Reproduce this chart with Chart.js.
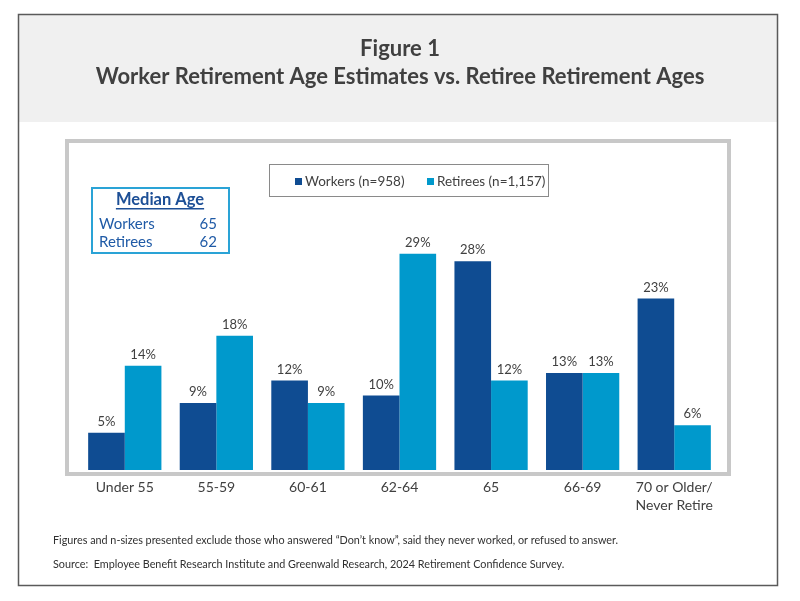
<!DOCTYPE html>
<html><head><meta charset="utf-8">
<script src="https://cdn.jsdelivr.net/npm/chart.js@4/dist/chart.umd.min.js"></script>
<style>html,body{margin:0;padding:0;background:#fff}#wrap{width:800px;height:601px;position:relative}</style>
</head><body><div id="wrap"><canvas id="c" width="800" height="601"></canvas></div>
<script>
const categories = [["Under 55"], ["55-59"], ["60-61"], ["62-64"], ["65"], ["66-69"], ["70 or Older/", "Never Retire"]];
const workers = [5, 9, 12, 10, 28, 13, 23];
const retirees = [14, 18, 9, 29, 12, 13, 6];
const seriesLabels = ["Workers (n=958)", "Retirees (n=1,157)"];
const medianLabels = ["Workers", "Retirees"];
const medianValues = [65, 62];
const titleLines = ["Figure 1", "Worker Retirement Age Estimates vs. Retiree Retirement Ages"];
const notes = ["Figures and n-sizes presented exclude those who answered \u201cDon\u2019t know\u201d, said they never worked, or refused to answer.",
  "Source:  Employee Benefit Research Institute and Greenwald Research, 2024 Retirement Confidence Survey."];

const FONT = "Lato, 'Open Sans', sans-serif";
const TXT = "#404040";

const deco = {
  id: 'deco',
  beforeDraw(chart) {
    const ctx = chart.ctx;
    ctx.save();
    ctx.fillStyle = '#fff';
    ctx.fillRect(0, 0, 800, 601);
    ctx.fillStyle = '#f0f0f0';
    ctx.fillRect(19, 15, 758, 107);
    ctx.strokeStyle = '#5a5a5a';
    ctx.lineWidth = 1.5;
    ctx.strokeRect(18.5, 14.5, 759, 571);
    ctx.fillStyle = TXT;
    ctx.textAlign = 'center';
    ctx.textBaseline = 'middle';
    ctx.font = "bold 22px " + FONT;
    ctx.fillText(titleLines[0], 400, 49);
    ctx.fillText(titleLines[1], 400, 77);
    ctx.strokeStyle = '#c8c8c8';
    ctx.lineWidth = 4;
    ctx.strokeRect(67, 141, 662, 333);
    ctx.textAlign = 'left';
    ctx.font = "10.8px " + FONT;
    ctx.fillStyle = '#303030';
    ctx.fillText(notes[0], 53, 541);
    ctx.fillText(notes[1], 53, 565);
    ctx.restore();
  },
  afterDraw(chart) {
    const ctx = chart.ctx;
    ctx.save();
    // data labels
    ctx.font = "13px " + FONT;
    ctx.fillStyle = TXT;
    ctx.textAlign = 'center';
    ctx.textBaseline = 'middle';
    chart.data.datasets.forEach((ds, i) => {
      chart.getDatasetMeta(i).data.forEach((bar, j) => {
        ctx.fillText(ds.data[j] + '%', bar.x, bar.y - 11);
      });
    });
    // legend
    ctx.strokeStyle = '#8a8a8a';
    ctx.lineWidth = 1;
    ctx.strokeRect(269.5, 164.5, 279, 32);
    ctx.font = "13.5px " + FONT;
    ctx.textBaseline = 'middle';
    ctx.textAlign = 'left';
    const lx = [295, 427];
    chart.data.datasets.forEach((ds, i) => {
      ctx.fillStyle = ds.backgroundColor;
      ctx.fillRect(lx[i], 178, 7, 7);
      ctx.fillStyle = TXT;
      ctx.fillText(ds.label, lx[i] + 10, 181.5);
    });
    // median box
    ctx.strokeStyle = '#2aa3d6';
    ctx.lineWidth = 2;
    ctx.strokeRect(92, 188, 137, 65);
    ctx.fillStyle = '#1d4f96';
    ctx.font = "bold 16.5px " + FONT;
    ctx.textAlign = 'center';
    ctx.fillText('Median Age', 160, 200);
    const w = ctx.measureText('Median Age').width;
    ctx.fillRect(160 - w / 2, 208, w, 1.5);
    ctx.font = "15px " + FONT;
    ctx.fillStyle = '#1f5aa6';
    medianLabels.forEach((l, i) => {
      ctx.textAlign = 'left';
      ctx.fillText(l, 99, 224 + i * 18);
      ctx.textAlign = 'right';
      ctx.fillText(String(medianValues[i]), 217, 224 + i * 18);
    });
    ctx.restore();
  }
};

new Chart(document.getElementById('c'), {
  type: 'bar',
  data: {
    labels: categories,
    datasets: [
      { label: seriesLabels[0], data: workers, backgroundColor: '#0f4c92' },
      { label: seriesLabels[1], data: retirees, backgroundColor: '#0099cc' }
    ]
  },
  options: {
    responsive: false,
    animation: false,
    layout: { padding: { left: 79, right: 80, top: 142, bottom: 91 } },
    plugins: { legend: { display: false }, tooltip: { enabled: false } },
    datasets: { bar: { categoryPercentage: 0.8, barPercentage: 1.0 } },
    scales: {
      x: {
        grid: { display: false, drawTicks: false },
        border: { display: false },
        ticks: { color: TXT, font: { family: FONT, size: 14, lineHeight: 1.3 }, padding: 8 },
        afterFit(s) { s.height = 40; }
      },
      y: { display: false, min: 0, max: 44 }
    }
  },
  plugins: [deco]
});
</script></body></html>
